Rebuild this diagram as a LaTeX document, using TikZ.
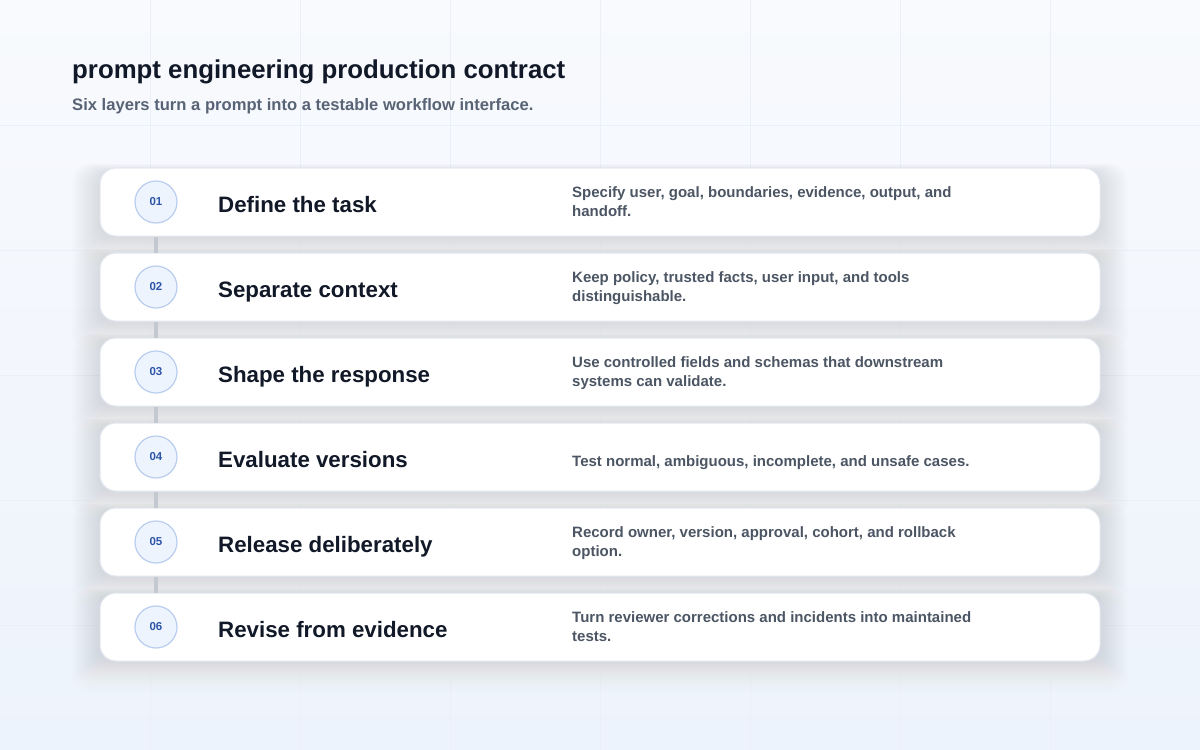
\documentclass[tikz,border=0pt]{standalone}
\usepackage{fontspec}
\setmainfont{Liberation Sans}
\usetikzlibrary{positioning}
\definecolor{bgtop}{HTML}{F8FAFD}
\definecolor{bgbot}{HTML}{EDF3FC}
\definecolor{gridline}{HTML}{EBF0F7}
\definecolor{cardline}{HTML}{E2E7EF}
\definecolor{ink}{HTML}{111827}
\definecolor{muted}{HTML}{4B5563}
\definecolor{subink}{HTML}{586375}
\definecolor{badgefill}{HTML}{EEF4FE}
\definecolor{badgeline}{HTML}{B9CDEE}
\definecolor{badgeink}{HTML}{2D55A8}
\definecolor{rail}{HTML}{C4C8D0}
\definecolor{shade}{HTML}{6A7AA4}
\tikzset{
  card/.style={draw=cardline, line width=1pt, fill=white, rounded corners=16pt,
    minimum width=1000pt, minimum height=68pt, inner sep=0pt},
  badge/.style={circle, draw=badgeline, line width=1.2pt, fill=badgefill,
    minimum size=42pt, inner sep=0pt, text=badgeink, font=\fontsize{11.5}{13}\selectfont\bfseries},
  steptitle/.style={anchor=base west, inner sep=0pt, text=ink,
    font=\fontsize{22.3}{26}\selectfont\bfseries},
  stepnote/.style={anchor=base west, inner sep=0pt, text=muted, align=left,
    font=\fontsize{15}{19}\selectfont\bfseries},
  railline/.style={draw=rail, line width=4pt}
}
\begin{document}
\begin{tikzpicture}[x=1pt, y=-1pt]
  \useasboundingbox (0,0) rectangle (1200,750);
  % background and faint grid
  \shade [top color=bgtop, bottom color=bgbot] (0,0) rectangle (1200,750);
  \foreach \gx in {150,300,...,1050} \draw [gridline, line width=0.8pt] (\gx,0) -- (\gx,750);
  \foreach \gy in {125,250,...,625} \draw [gridline, line width=0.8pt] (0,\gy) -- (1200,\gy);
  % soft shadows under the cards
  \foreach \k in {0,...,5} {
    \pgfmathsetmacro{\cy}{202+85*\k}
    \foreach \s in {2,4,...,28}
      \fill [shade, opacity=0.005, rounded corners=18pt]
        (100-\s,\cy-30-\s*0.3) rectangle (1100+\s,\cy+38+\s);
  }
  % header
  \node [anchor=base west, inner sep=0pt, text=ink, font=\fontsize{25.8}{30}\selectfont\bfseries]
    (title) at (72,78) {prompt engineering production contract};
  \node [anchor=base west, inner sep=0pt, text=subink, font=\fontsize{16.6}{20}\selectfont\bfseries]
    (subtitle) at (72,110) {Six layers turn a prompt into a testable workflow interface.};
  % the six layers
  \foreach \k/\num/\head/\note/\dy in {
      0/01/Define the task/{Specify user, goal, boundaries, evidence, output, and\\handoff.}/14,
      1/02/Separate context/{Keep policy, trusted facts, user input, and tools\\distinguishable.}/14,
      2/03/Shape the response/{Use controlled fields and schemas that downstream\\systems can validate.}/14,
      3/04/Evaluate versions/{Test normal, ambiguous, incomplete, and unsafe cases.}/9,
      4/05/Release deliberately/{Record owner, version, approval, cohort, and rollback\\option.}/14,
      5/06/Revise from evidence/{Turn reviewer corrections and incidents into maintained\\tests.}/14} {
    \pgfmathsetmacro{\cy}{202+85*\k}
    \node [card] (card\num) at (600,\cy) {};
    \node [badge] (badge\num) at (156,\cy) {\num};
    \node [steptitle] (head\num) at (218,\cy+10) {\head};
    \node [stepnote] (note\num) at (572,\cy+\dy) {\note};
  }
  % rail between badges
  \foreach \a/\b in {01/02,02/03,03/04,04/05,05/06}
    \draw [railline] (card\a.south -| badge\a) -- (card\b.north -| badge\b);
\end{tikzpicture}
\end{document}
